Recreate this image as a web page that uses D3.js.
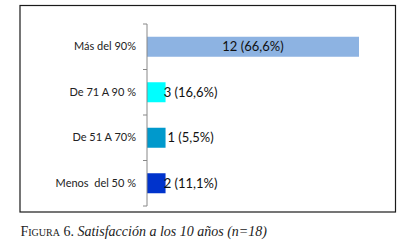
<!DOCTYPE html>
<html>
<head>
<meta charset="utf-8">
<script src="https://cdnjs.cloudflare.com/ajax/libs/d3/7.8.5/d3.min.js"></script>
<style>
  body { margin: 0; background: #fff; }
</style>
</head>
<body>
<div id="chart"></div>
<script>
var width = 409;
var height = 244;

// categories top to bottom
var categories = ["Más del 90%", "De 71 A 90 %", "De 51 A 70%", "Menos  del 50 %"];
// bar lengths as drawn in the figure (the three small bars share one length)
var barLengths = [12, 1.05, 1.05, 1.05];
// data labels
var valueLabels = ["12 (66,6%)", "3 (16,6%)", "1 (5,5%)", "2 (11,1%)"];
var barColors = ["#8db3e2", "#00ffff", "#0099cc", "#0033cc"];

var svg = d3.select("#chart")
    .append("svg")
    .attr("width", width)
    .attr("height", height);

// outer frame
svg.append("rect")
    .attr("x", 20)
    .attr("y", 5.5)
    .attr("width", 375.5)
    .attr("height", 206.5)
    .attr("fill", "none")
    .style("stroke", "#1a1a1a")
    .style("stroke-width", "1.2px");

var x = d3.scaleLinear().domain([0, 12]).range([147, 359]);
var y = d3.scaleBand().domain(categories).range([24, 206]).paddingInner(0).paddingOuter(0);
var barH = 20;

// axis labels
var axis = svg.append("g")
    .attr("transform", "translate(147,0)")
    .call(d3.axisLeft(y).tickSize(0).tickPadding(11));
axis.select(".domain").remove();
axis.selectAll("text")
    .style("font-family", "Lato, 'Open Sans', sans-serif")
    .style("font-size", "11px")
    .style("fill", "#222")
    .style("white-space", "pre");

// bars
svg.selectAll(".bar")
    .data(categories)
    .enter().append("rect")
    .attr("class", "bar")
    .attr("x", x(0))
    .attr("y", function(d) { return y(d) + (y.bandwidth() - barH) / 2; })
    .attr("width", function(d, i) { return x(barLengths[i]) - x(0); })
    .attr("height", barH)
    .attr("fill", function(d, i) { return barColors[i]; });

// axis line and ticks between categories
svg.append("line")
    .attr("x1", x(0)).attr("x2", x(0))
    .attr("y1", y.range()[0]).attr("y2", y.range()[1])
    .style("stroke", "#888")
    .style("stroke-width", "1px");

var tickYs = categories.map(function(d) { return y(d); }).concat([y.range()[1]]);
svg.selectAll(".tk")
    .data(tickYs)
    .enter().append("line")
    .attr("class", "tk")
    .attr("x1", x(0) - 4).attr("x2", x(0))
    .attr("y1", function(d) { return d; })
    .attr("y2", function(d) { return d; })
    .style("stroke", "#888")
    .style("stroke-width", "1px");

// value labels
svg.selectAll(".val")
    .data(categories)
    .enter().append("text")
    .attr("class", "val")
    .attr("x", function(d, i) {
        return i == 0 ? (x(0) + x(barLengths[i])) / 2 : x(barLengths[i]) + 25;
    })
    .attr("y", function(d) { return y(d) + y.bandwidth() / 2; })
    .attr("dy", "0.36em")
    .text(function(d, i) { return valueLabels[i]; })
    .style("text-anchor", "middle")
    .style("font-family", "Lato, 'Open Sans', sans-serif")
    .style("font-size", "13px")
    .style("fill", "#111");

// caption
var cap = svg.append("text")
    .attr("x", 20.5)
    .attr("y", 236)
    .style("font-family", "'Liberation Serif', 'DejaVu Serif', serif")
    .style("font-size", "14px")
    .style("fill", "#222");
cap.append("tspan")
    .style("font-variant", "small-caps")
    .text("Figura 6.");
cap.append("tspan")
    .style("font-style", "italic")
    .text(" Satisfacción a los 10 años (n=18)");
</script>
</body>
</html>
